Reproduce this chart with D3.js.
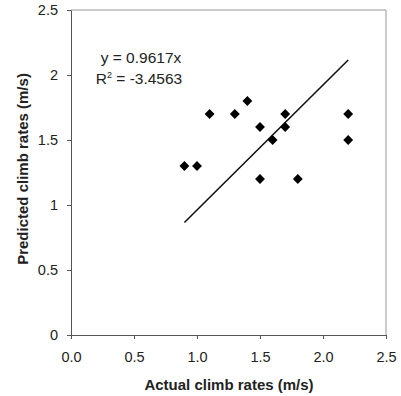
<!DOCTYPE html>
<html lang="en">
<head>
    <meta charset="utf-8">
    <title>Climb rates</title>
    <script src="https://d3js.org/d3.v7.min.js"></script>
    <style>
        body { margin: 0; background: #fff; }
        text { font-family: "Liberation Sans", Arial, sans-serif; fill: #222; }
    </style>
</head>
<body>
<svg id="chart" width="401" height="396"></svg>
<script>
// measured points
var actual    = [0.9, 1.0, 1.1, 1.3, 1.4, 1.5, 1.5, 1.6, 1.7, 1.7, 1.8, 2.2, 2.2];
var predicted = [1.3, 1.3, 1.7, 1.7, 1.8, 1.6, 1.2, 1.5, 1.7, 1.6, 1.2, 1.7, 1.5];
// trend line y = slope * x over the data range
var slope = 0.9617;
var trendX = [0.9, 2.2];
var xTicks = [0, 0.5, 1.0, 1.5, 2.0, 2.5];
var yTicks = [0, 0.5, 1, 1.5, 2, 2.5];

var svg = d3.select("#chart"),
    margin = {left: 71, top: 10, right: 15, bottom: 61},
    width = 401 - margin.left - margin.right,
    height = 396 - margin.top - margin.bottom;

var x = d3.scaleLinear().domain([0, 2.5]).range([0, width]);
var y = d3.scaleLinear().domain([0, 2.5]).range([height, 0]);

var g = svg.append("g")
    .attr("transform", "translate(" + margin.left + "," + margin.top + ")");

// frame on top and right
g.append("path")
    .attr("d", "M0,0H" + width + "V" + height)
    .attr("fill", "none")
    .attr("stroke", "#999")
    .attr("stroke-width", 1);

var xAxis = g.append("g")
    .attr("transform", "translate(0," + height + ")")
    .call(d3.axisBottom(x).tickValues(xTicks).tickFormat(d3.format(".1f")).tickSizeOuter(0).tickSizeInner(4).tickPadding(13));

var yAxis = g.append("g")
    .call(d3.axisLeft(y).tickValues(yTicks).tickFormat(function(d) { return d; }).tickSizeOuter(0).tickSizeInner(4).tickPadding(9));

[xAxis, yAxis].forEach(function(a) {
    a.selectAll("path, line").attr("stroke", "#555");
    a.selectAll("text").style("font-size", "14.5px").attr("fill", "#333");
});

// trend line
g.append("line")
    .attr("x1", x(trendX[0])).attr("y1", y(trendX[0] * slope))
    .attr("x2", x(trendX[1])).attr("y2", y(trendX[1] * slope))
    .attr("stroke", "#111")
    .attr("stroke-width", 1.6);

// diamond markers
var diamond = d3.symbol().type(d3.symbolDiamond2).size(62);
g.selectAll(".pt")
    .data(d3.range(actual.length))
    .enter().append("path")
    .attr("class", "pt")
    .attr("d", diamond)
    .attr("transform", function(i) { return "translate(" + x(actual[i]) + "," + y(predicted[i]) + ")"; })
    .attr("fill", "#000");

// equation label
var eq = g.append("text")
    .attr("x", 141 - margin.left)
    .attr("y", 63 - margin.top)
    .attr("text-anchor", "middle")
    .style("font-size", "15.5px");
eq.append("tspan").text("y = 0.9617x");
var r2 = g.append("text")
    .attr("x", 139 - margin.left)
    .attr("y", 84 - margin.top)
    .attr("text-anchor", "middle")
    .style("font-size", "15.5px");
r2.append("tspan").text("R");
r2.append("tspan").attr("dy", -6).style("font-size", "9px").text("2");
r2.append("tspan").attr("dy", 6).text(" = -3.4563");

// axis titles
svg.append("text")
    .attr("x", 229)
    .attr("y", 390)
    .attr("text-anchor", "middle")
    .style("font-size", "15px")
    .style("font-weight", "bold")
    .text("Actual climb rates (m/s)");

svg.append("text")
    .attr("transform", "translate(28,169) rotate(-90)")
    .attr("text-anchor", "middle")
    .style("font-size", "15px")
    .style("font-weight", "bold")
    .text("Predicted climb rates (m/s)");
</script>
</body>
</html>
